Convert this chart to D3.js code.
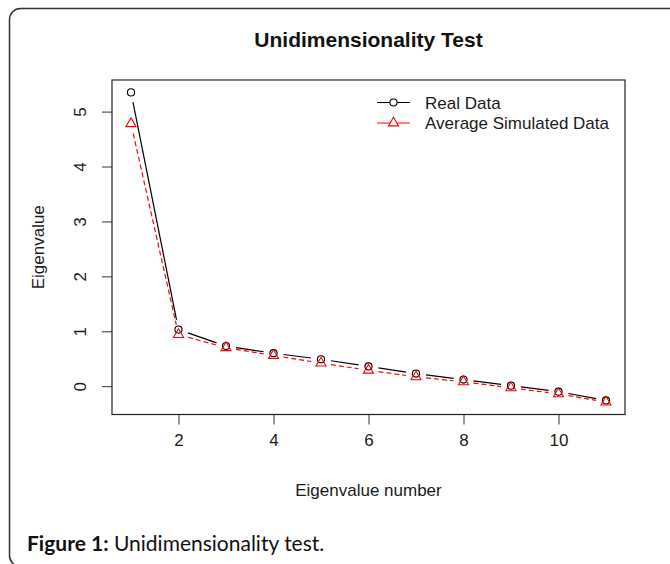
<!DOCTYPE html>
<html>
<head>
<meta charset="utf-8">
<script src="https://cdn.jsdelivr.net/npm/d3@7"></script>
<style>
  body { margin: 0; background: #fff; }
  svg { display: block; }
  .ax text { font-family: "Liberation Sans", Arial, sans-serif; font-size: 17px; fill: #1a1a1a; }
  .ax line { stroke: #333; }
</style>
</head>
<body>
<div id="chart"></div>
<script>
// eigenvalue index and the two series
var eigenNumbers = [1, 2, 3, 4, 5, 6, 7, 8, 9, 10, 11];
var realData = [5.35, 1.03, 0.73, 0.60, 0.49, 0.36, 0.23, 0.12, 0.01, -0.10, -0.26];
var simulatedData = [4.78, 0.94, 0.70, 0.56, 0.42, 0.29, 0.17, 0.08, -0.03, -0.14, -0.29];
var xTicks = [2, 4, 6, 8, 10];
var yTicks = [0, 1, 2, 3, 4, 5];
var legendLabels = ["Real Data", "Average Simulated Data"];

var W = 670, H = 564,
    box = {left: 112, right: 625, top: 80, bottom: 414.5},
    gap = 10;

var svg = d3.select("#chart").append("svg")
    .attr("width", W)
    .attr("height", H);

// outer frame of the figure
svg.append("rect")
    .attr("x", 9.5)
    .attr("y", 8.5)
    .attr("width", 720)
    .attr("height", 558)
    .attr("rx", 11)
    .attr("fill", "none")
    .attr("stroke", "#333")
    .attr("stroke-width", 1.5);

// R style 4% range expansion
function expand(ext) {
    var d = (ext[1] - ext[0]) * 0.04;
    return [ext[0] - d, ext[1] + d];
}

var x = d3.scaleLinear()
    .domain(expand(d3.extent(eigenNumbers)))
    .range([box.left, box.right]);

var allVals = realData.concat(simulatedData);
var y = d3.scaleLinear()
    .domain(expand(d3.extent(allVals)))
    .range([box.bottom, box.top]);

// axes
var gx = svg.append("g")
    .attr("class", "ax")
    .attr("transform", "translate(0," + box.bottom + ")")
    .call(d3.axisBottom(x).tickValues(xTicks).tickSize(10).tickPadding(9).tickFormat(d3.format("d")));
gx.select(".domain").remove();

var gy = svg.append("g")
    .attr("class", "ax")
    .attr("transform", "translate(" + box.left + ",0)")
    .call(d3.axisLeft(y).tickValues(yTicks).tickSize(10).tickFormat(d3.format("d")));
gy.select(".domain").remove();
gy.selectAll("text")
    .attr("x", 0)
    .attr("dy", 0)
    .attr("text-anchor", "middle")
    .attr("transform", "translate(-26,0) rotate(-90)");

// plot box
svg.append("rect")
    .attr("x", box.left)
    .attr("y", box.top)
    .attr("width", box.right - box.left)
    .attr("height", box.bottom - box.top)
    .attr("fill", "none")
    .attr("stroke", "#222")
    .attr("stroke-width", 1.2);

// titles
svg.append("text")
    .attr("x", (box.left + box.right) / 2)
    .attr("y", 47)
    .attr("text-anchor", "middle")
    .style("font-family", "'Liberation Sans', Arial, sans-serif")
    .style("font-size", "21px")
    .style("font-weight", "bold")
    .style("fill", "#111")
    .text("Unidimensionality Test");

svg.append("text")
    .attr("x", (box.left + box.right) / 2)
    .attr("y", 496)
    .attr("text-anchor", "middle")
    .style("font-family", "'Liberation Sans', Arial, sans-serif")
    .style("font-size", "17px")
    .style("fill", "#1a1a1a")
    .text("Eigenvalue number");

svg.append("text")
    .attr("transform", "translate(44," + ((box.top + box.bottom) / 2) + ") rotate(-90)")
    .attr("text-anchor", "middle")
    .style("font-family", "'Liberation Sans', Arial, sans-serif")
    .style("font-size", "17px")
    .style("fill", "#1a1a1a")
    .text("Eigenvalue");

// type = "b" lines: segments with gaps around the points
function drawSeries(values, color, dash, symbolType) {
    var pts = values.map(function(v, i) { return [x(eigenNumbers[i]), y(v)]; });
    var g = svg.append("g");
    for (var i = 0; i < pts.length - 1; i++) {
        var p0 = pts[i], p1 = pts[i + 1];
        var dx = p1[0] - p0[0], dy = p1[1] - p0[1];
        var len = Math.sqrt(dx * dx + dy * dy);
        if (len <= 2 * gap) continue;
        var ux = dx / len, uy = dy / len;
        g.append("line")
            .attr("x1", p0[0] + ux * gap)
            .attr("y1", p0[1] + uy * gap)
            .attr("x2", p1[0] - ux * gap)
            .attr("y2", p1[1] - uy * gap)
            .attr("stroke", color)
            .attr("stroke-width", 1.2)
            .attr("stroke-dasharray", dash);
    }
    g.selectAll("path.pt")
        .data(pts)
        .enter()
        .append("path")
        .attr("class", "pt")
        .attr("transform", function(d) { return "translate(" + d[0] + "," + d[1] + ")"; })
        .attr("d", d3.symbol().type(symbolType).size(symbolType === d3.symbolCircle ? 40 : 44))
        .attr("fill", "none")
        .attr("stroke", color)
        .attr("stroke-width", 1.1);
}

drawSeries(realData, "#000", null, d3.symbolCircle);
drawSeries(simulatedData, "#ff0000", "5,3", d3.symbolTriangle);

// legend
var legend = svg.append("g");
var legendStyle = [
    {color: "#000", sym: d3.symbolCircle, y: 102.5},
    {color: "#ff0000", sym: d3.symbolTriangle, y: 123}
];
legendStyle.forEach(function(s, i) {
    legend.append("line")
        .attr("x1", 377)
        .attr("x2", 410)
        .attr("y1", s.y)
        .attr("y2", s.y)
        .attr("stroke", s.color)
        .attr("stroke-width", 1.2);
    legend.append("path")
        .attr("transform", "translate(393.5," + s.y + ")")
        .attr("d", d3.symbol().type(s.sym).size(s.sym === d3.symbolCircle ? 40 : 44))
        .attr("fill", "#fff")
        .attr("stroke", s.color)
        .attr("stroke-width", 1.1);
    legend.append("text")
        .attr("x", 425)
        .attr("y", s.y + 6)
        .style("font-family", "'Liberation Sans', Arial, sans-serif")
        .style("font-size", "17px")
        .style("fill", "#1a1a1a")
        .text(legendLabels[i]);
});

// caption
var cap = svg.append("text")
    .attr("x", 27)
    .attr("y", 551)
    .style("font-family", "Lato, 'Open Sans', sans-serif")
    .style("font-size", "21px")
    .style("fill", "#111");
cap.append("tspan").style("font-weight", "bold").text("Figure 1:");
cap.append("tspan").text(" Unidimensionality test.");
</script>
</body>
</html>
